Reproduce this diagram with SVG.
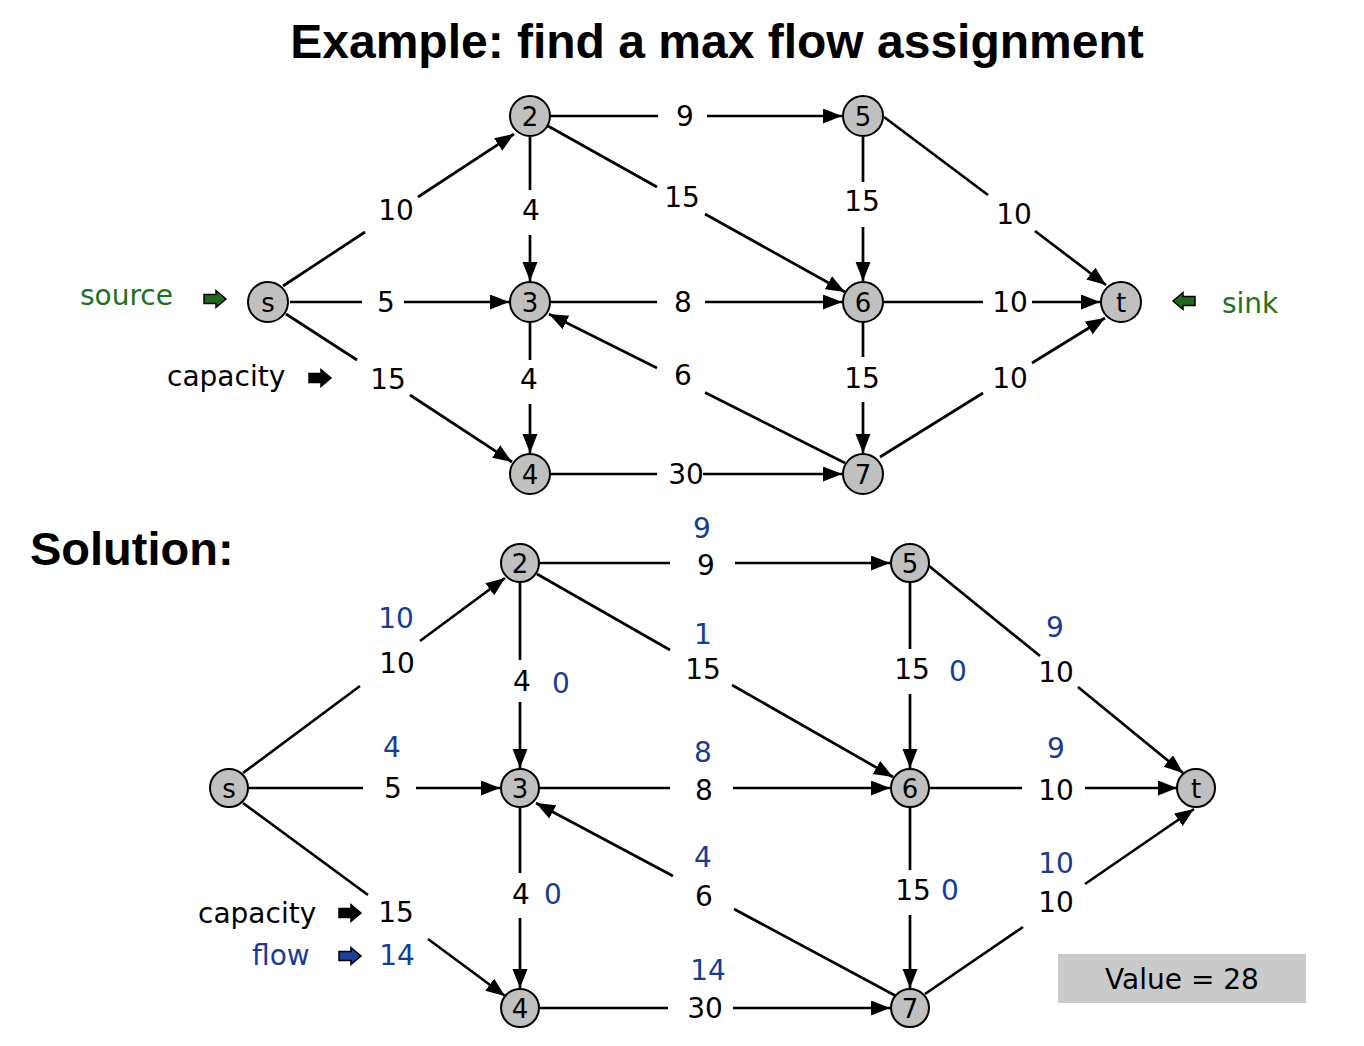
<svg xmlns="http://www.w3.org/2000/svg" xmlns:xlink="http://www.w3.org/1999/xlink" width="1364" height="1046" viewBox="0 0 1364 1046">
<style>
  .title { font-family: "Liberation Sans", Arial, sans-serif; font-weight: bold; fill: #000; }
  .lbl { font-family: "DejaVu Sans", sans-serif; font-size: 28px; text-anchor: middle; fill: #000; }
  .flow { fill: #173b98; }
  .word { font-family: "DejaVu Sans", sans-serif; font-size: 28px; }
  .green { fill: #1f721b; }
  .node circle { fill: #c0c0c0; stroke: #000; stroke-width: 2; }
  .node text { font-family: "DejaVu Sans", sans-serif; font-size: 26px; text-anchor: middle; fill: #000; }
  .edge { fill: none; stroke: #000; stroke-width: 2.7; marker-end: url(#ah); }
  .barrow { stroke: #000; stroke-width: 1.5; }
</style>
<defs>
  <marker id="ah" markerUnits="userSpaceOnUse" markerWidth="21" markerHeight="17" refX="19" refY="7.5" orient="auto">
    <path d="M0,0 L19,7.5 L0,15 Z" fill="#000"/>
  </marker>
  <path id="blk" d="M-11,-4.5 H1 V-8.5 L11,0 L1,8.5 V4.5 H-11 Z"/>
</defs>
<rect width="1364" height="1046" fill="#fff"/>

<text class="title" x="717" y="58" font-size="48" text-anchor="middle">Example: find a max flow assignment</text>
<text class="title" x="30" y="565" font-size="47">Solution:</text>

<!-- ===== Top graph connectors ===== -->
<g id="connectors-top">
  <path class="edge" d="M283,286 L365,232 M418,197 L514,134"/>
  <path class="edge" d="M290,302 L362,302 M404,302 L509,302"/>
  <path class="edge" d="M286,314 L357,360 M410,395 L512,462"/>
  <path class="edge" d="M530,137 L530,190 M530,235 L530,281"/>
  <path class="edge" d="M551,116 L658,116 M707,116 L842,116"/>
  <path class="edge" d="M548,126 L657,187 M705,214 L845,292"/>
  <path class="edge" d="M551,302 L657,302 M705,302 L842,302"/>
  <path class="edge" d="M530,323 L530,360 M530,404 L530,453"/>
  <path class="edge" d="M845,463 L705,392.5 M657,368 L549,314"/>
  <path class="edge" d="M551,474 L657,474 M703,474 L842,474"/>
  <path class="edge" d="M863,137 L863,182 M863,227 L863,281"/>
  <path class="edge" d="M863,323 L863,357 M863,402 L863,453"/>
  <path class="edge" d="M884,117 L988,195 M1035,231 L1106,285"/>
  <path class="edge" d="M884,302 L983,302 M1032,302 L1100,302"/>
  <path class="edge" d="M880,457 L983,393 M1032,363 L1105,318"/>
</g>

<!-- ===== Bottom graph connectors ===== -->
<g id="connectors-bottom">
  <path class="edge" d="M243,773 L360,686 M420,641 L505,578"/>
  <path class="edge" d="M248,788 L363,788 M416,788 L500,788"/>
  <path class="edge" d="M243,803 L368,895 M428,939 L505,996"/>
  <path class="edge" d="M520,582 L520,660 M520,702 L520,768"/>
  <path class="edge" d="M539,563 L670,563 M735,563 L890,563"/>
  <path class="edge" d="M537,574 L670,650 M732,685 L893,777"/>
  <path class="edge" d="M539,788 L670,788 M733,788 L890,788"/>
  <path class="edge" d="M520,807 L520,873 M520,918 L520,988"/>
  <path class="edge" d="M896,996 L734,909 M673,876 L536,803"/>
  <path class="edge" d="M539,1008 L668,1008 M733,1008 L890,1008"/>
  <path class="edge" d="M910,582 L910,649 M910,694 L910,768"/>
  <path class="edge" d="M910,807 L910,870 M910,915 L910,988"/>
  <path class="edge" d="M929,566 L1040,656 M1078,687 L1183,773"/>
  <path class="edge" d="M929,788 L1022,788 M1085,788 L1177,788"/>
  <path class="edge" d="M925,994 L1023,927 M1085,884 L1194,809"/>
</g>

<!-- ===== Top graph nodes ===== -->
<g id="top-s" class="node"><circle cx="268" cy="302" r="20"/><text x="268" y="311.5">s</text></g>
<g id="top-2" class="node"><circle cx="530" cy="116" r="20"/><text x="530" y="125.5">2</text></g>
<g id="top-3" class="node"><circle cx="530" cy="302" r="20"/><text x="530" y="311.5">3</text></g>
<g id="top-4" class="node"><circle cx="530" cy="474" r="20"/><text x="530" y="483.5">4</text></g>
<g id="top-5" class="node"><circle cx="863" cy="116" r="20"/><text x="863" y="125.5">5</text></g>
<g id="top-6" class="node"><circle cx="863" cy="302" r="20"/><text x="863" y="311.5">6</text></g>
<g id="top-7" class="node"><circle cx="863" cy="474" r="20"/><text x="863" y="483.5">7</text></g>
<g id="top-t" class="node"><circle cx="1121" cy="302" r="20"/><text x="1121" y="311.5">t</text></g>

<!-- ===== Bottom graph nodes ===== -->
<g id="sol-s" class="node"><circle cx="229" cy="788" r="19"/><text x="229" y="797.5">s</text></g>
<g id="sol-2" class="node"><circle cx="520" cy="563" r="19"/><text x="520" y="572.5">2</text></g>
<g id="sol-3" class="node"><circle cx="520" cy="788" r="19"/><text x="520" y="797.5">3</text></g>
<g id="sol-4" class="node"><circle cx="520" cy="1008" r="19"/><text x="520" y="1017.5">4</text></g>
<g id="sol-5" class="node"><circle cx="910" cy="563" r="19"/><text x="910" y="572.5">5</text></g>
<g id="sol-6" class="node"><circle cx="910" cy="788" r="19"/><text x="910" y="797.5">6</text></g>
<g id="sol-7" class="node"><circle cx="910" cy="1008" r="19"/><text x="910" y="1017.5">7</text></g>
<g id="sol-t" class="node"><circle cx="1196" cy="788" r="19"/><text x="1196" y="797.5">t</text></g>

<!-- ===== Top capacity labels ===== -->
<g id="top-labels">
  <text class="lbl" x="396" y="220">10</text>
  <text class="lbl" x="386" y="312">5</text>
  <text class="lbl" x="388" y="389">15</text>
  <text class="lbl" x="531" y="220">4</text>
  <text class="lbl" x="685" y="126">9</text>
  <text class="lbl" x="682" y="207">15</text>
  <text class="lbl" x="683" y="312">8</text>
  <text class="lbl" x="529" y="389">4</text>
  <text class="lbl" x="683" y="385">6</text>
  <text class="lbl" x="686" y="484">30</text>
  <text class="lbl" x="862" y="211">15</text>
  <text class="lbl" x="862" y="388">15</text>
  <text class="lbl" x="1014" y="224">10</text>
  <text class="lbl" x="1010" y="312">10</text>
  <text class="lbl" x="1010" y="388">10</text>
</g>

<!-- ===== Bottom capacity / flow labels ===== -->
<g id="sol-labels">
  <text class="lbl" x="397" y="673">10</text>
  <text class="lbl" x="393" y="798">5</text>
  <text class="lbl" x="396" y="922">15</text>
  <text class="lbl" x="522" y="691">4</text>
  <text class="lbl" x="706" y="575">9</text>
  <text class="lbl" x="703" y="679">15</text>
  <text class="lbl" x="704" y="800">8</text>
  <text class="lbl" x="521" y="904">4</text>
  <text class="lbl" x="704" y="906">6</text>
  <text class="lbl" x="705" y="1018">30</text>
  <text class="lbl" x="912" y="679">15</text>
  <text class="lbl" x="913" y="900">15</text>
  <text class="lbl" x="1056" y="682">10</text>
  <text class="lbl" x="1056" y="800">10</text>
  <text class="lbl" x="1056" y="912">10</text>

  <text class="lbl flow" x="396" y="628">10</text>
  <text class="lbl flow" x="392" y="757">4</text>
  <text class="lbl flow" x="397" y="965">14</text>
  <text class="lbl flow" x="561" y="693">0</text>
  <text class="lbl flow" x="702" y="538">9</text>
  <text class="lbl flow" x="703" y="644">1</text>
  <text class="lbl flow" x="703" y="762">8</text>
  <text class="lbl flow" x="553" y="904">0</text>
  <text class="lbl flow" x="703" y="867">4</text>
  <text class="lbl flow" x="708" y="980">14</text>
  <text class="lbl flow" x="958" y="681">0</text>
  <text class="lbl flow" x="950" y="900">0</text>
  <text class="lbl flow" x="1055" y="637">9</text>
  <text class="lbl flow" x="1056" y="758">9</text>
  <text class="lbl flow" x="1056" y="873">10</text>
</g>

<!-- ===== Legends ===== -->
<g id="legend-source">
  <text class="word green" x="80" y="305">source</text>
  <use href="#blk" xlink:href="#blk" class="barrow" x="215" y="299" fill="#1d6b1d"/>
</g>
<g id="legend-capacity-top">
  <text class="word" x="167" y="386">capacity</text>
  <use href="#blk" xlink:href="#blk" class="barrow" x="320" y="378" fill="#000"/>
</g>
<g id="legend-sink">
  <use href="#blk" xlink:href="#blk" class="barrow" transform="translate(1184,301) rotate(180)" fill="#1d6b1d"/>
  <text class="word green" x="1222" y="313">sink</text>
</g>
<g id="legend-capacity-sol">
  <text class="word" x="198" y="923">capacity</text>
  <use href="#blk" xlink:href="#blk" class="barrow" x="350" y="913" fill="#000"/>
</g>
<g id="legend-flow">
  <text class="word flow" x="252" y="965">flow</text>
  <use href="#blk" xlink:href="#blk" class="barrow" x="350" y="956" fill="#1a3f9c"/>
</g>

<g id="value-box">
  <rect x="1058" y="954" width="248" height="49" fill="#cacaca"/>
  <text class="word" x="1182" y="989" text-anchor="middle">Value = 28</text>
</g>
</svg>
